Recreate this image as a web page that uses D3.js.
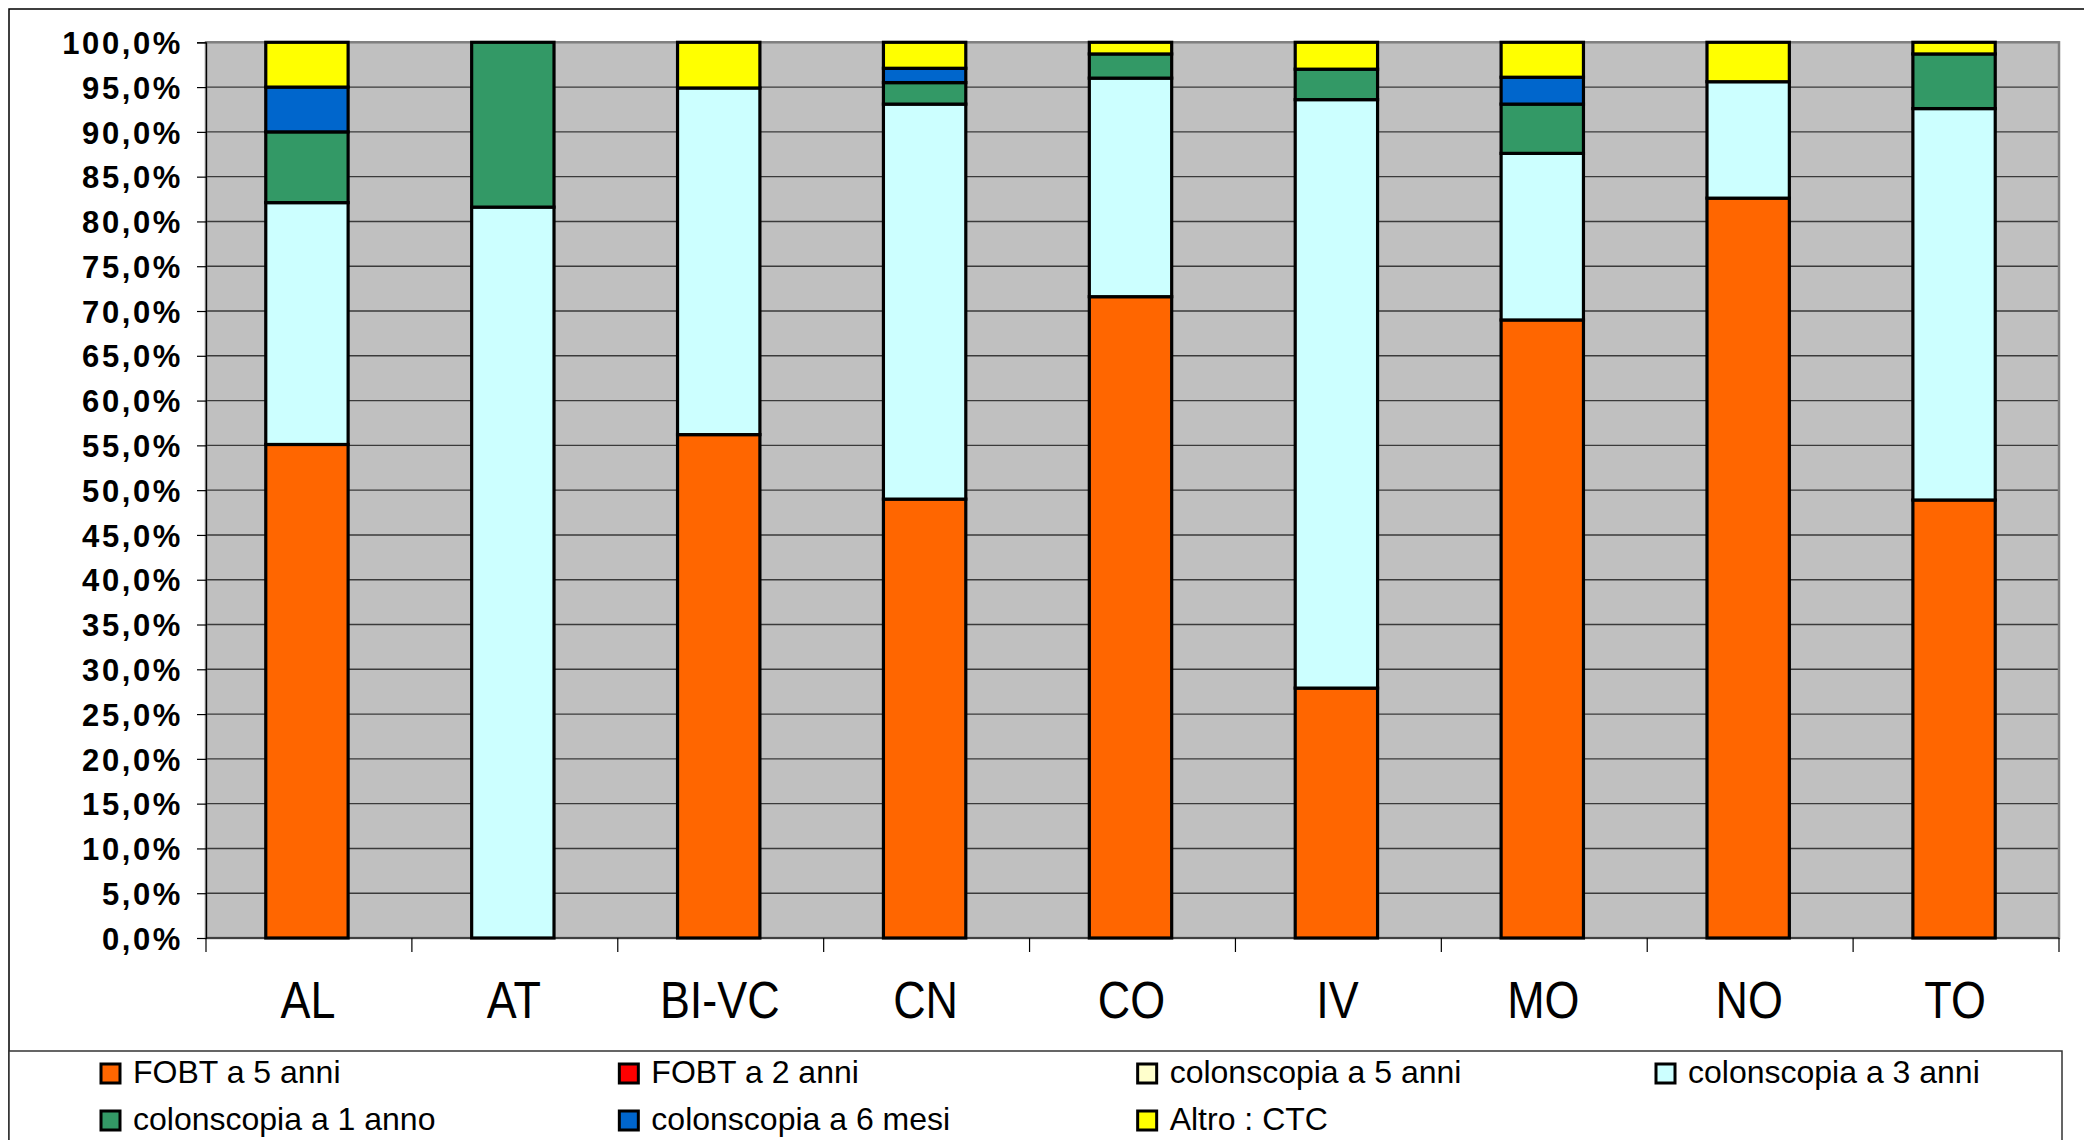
<!DOCTYPE html>
<html>
<head>
<meta charset="utf-8">
<script src="https://cdn.jsdelivr.net/npm/d3@7"></script>
<style>
  html, body { margin: 0; padding: 0; background: #fff; }
  svg { display: block; }
</style>
</head>
<body>
<svg id="chart" width="2084" height="1140"></svg>
<script>
// Screening follow-up by programme (percent of each column)
const categories = ["AL", "AT", "BI-VC", "CN", "CO", "IV", "MO", "NO", "TO"];
const seriesNames = [
  "FOBT a 5 anni", "FOBT a 2 anni", "colonscopia a 5 anni", "colonscopia a 3 anni",
  "colonscopia a 1 anno", "colonscopia a 6 mesi", "Altro : CTC"
];
const fobt5   = [55.1, 0.0, 56.2, 49.0, 71.6, 27.9, 69.0, 82.6, 48.9];
const fobt2   = [0, 0, 0, 0, 0, 0, 0, 0, 0];
const colon5  = [0, 0, 0, 0, 0, 0, 0, 0, 0];
const colon3  = [27.0, 81.6, 38.7, 44.1, 24.4, 65.7, 18.6, 13.0, 43.7];
const colon1  = [7.9, 18.4, 0.0, 2.4, 2.7, 3.4, 5.5, 0.0, 6.1];
const colon6m = [5.0, 0.0, 0.0, 1.6, 0.0, 0.0, 3.0, 0.0, 0.0];
const altro   = [5.0, 0.0, 5.1, 2.9, 1.3, 3.0, 3.9, 4.4, 1.3];
const seriesColors = ["#FF6600", "#FF0000", "#FFFFCC", "#CCFFFF", "#339966", "#0066CC", "#FFFF00"];
const yTickValues = d3.range(0, 101, 5);

const seriesValues = [fobt5, fobt2, colon5, colon3, colon1, colon6m, altro];
const keys = seriesNames;
const rows = categories.map((c, i) => {
  const r = { cat: c };
  keys.forEach((k, j) => { r[k] = seriesValues[j][i]; });
  return r;
});

const svg = d3.select("#chart");
const plot = { left: 206, right: 2059, top: 42.3, bottom: 938 };

// chart frame
svg.append("rect").attr("x", 9).attr("y", 9).attr("width", 2200).attr("height", 1300)
  .attr("fill", "#fff").attr("stroke", "#000").attr("stroke-width", 1.5);

const x = d3.scaleBand().domain(categories).range([plot.left, plot.right])
  .paddingInner(0.6).paddingOuter(0.3);
const xEdges = d3.scaleBand().domain(categories).range([plot.left, plot.right]);
const y = d3.scaleLinear().domain([0, 100]).range([plot.bottom, plot.top]);

// plot background
svg.append("rect").attr("x", plot.left).attr("y", plot.top)
  .attr("width", plot.right - plot.left).attr("height", plot.bottom - plot.top)
  .attr("fill", "#C0C0C0");

// horizontal gridlines
svg.append("g").selectAll("line").data(yTickValues).join("line")
  .attr("x1", plot.left).attr("x2", plot.right)
  .attr("y1", d => y(d)).attr("y2", d => y(d))
  .attr("stroke", "#3a3a3a").attr("stroke-width", 1.4);

// plot border
svg.append("rect").attr("x", plot.left).attr("y", plot.top)
  .attr("width", plot.right - plot.left).attr("height", plot.bottom - plot.top)
  .attr("fill", "none").attr("stroke", "#808080").attr("stroke-width", 2.5);

// stacked bars
const stacked = d3.stack().keys(keys)(rows);
svg.append("g").selectAll("g").data(stacked).join("g")
  .attr("fill", (d, i) => seriesColors[i])
  .selectAll("rect").data(d => d).join("rect")
  .attr("x", d => x(d.data.cat) - 2)
  .attr("width", x.bandwidth())
  .attr("y", d => y(d[1]))
  .attr("height", d => y(d[0]) - y(d[1]))
  .attr("stroke", "#000").attr("stroke-width", 3.2);

// y axis
const yAxis = d3.axisLeft(y).tickValues(yTickValues).tickSize(9).tickPadding(14)
  .tickFormat(d => d3.format(".1f")(d).replace(".", ",") + "%");
const gy = svg.append("g").attr("transform", `translate(${plot.left},0)`).call(yAxis);
gy.select(".domain").attr("stroke", "#000").attr("stroke-width", 1.2);
gy.selectAll(".tick line").attr("stroke", "#000").attr("stroke-width", 1.2);
gy.selectAll(".tick text")
  .attr("font-family", "'Liberation Sans', Arial, sans-serif")
  .attr("font-size", 31).attr("font-weight", "bold")
  .attr("letter-spacing", "2.6px").attr("fill", "#000")
  .attr("dy", "0.36em");

// x axis: ticks on category boundaries, labels centred in each band
const gx = svg.append("g").attr("transform", `translate(0,${plot.bottom})`);
gx.append("line").attr("x1", plot.left).attr("x2", plot.right)
  .attr("stroke", "#000").attr("stroke-width", 1.2);
const boundaries = categories.map(c => xEdges(c)).concat([plot.right]);
gx.selectAll("line.tk").data(boundaries).join("line").attr("class", "tk")
  .attr("x1", d => d).attr("x2", d => d).attr("y1", 0).attr("y2", 14)
  .attr("stroke", "#000").attr("stroke-width", 1.2);
gx.selectAll("text").data(categories).join("text")
  .attr("transform", d => `translate(${xEdges(d) + xEdges.bandwidth() / 2 - 1},80) scale(0.88,1)`)
  .attr("text-anchor", "middle")
  .attr("font-family", "'Liberation Sans', Arial, sans-serif")
  .attr("font-size", 51).attr("fill", "#000")
  .text(d => d);

// legend
const legend = svg.append("g");
legend.append("rect").attr("x", 9).attr("y", 1051).attr("width", 2053).attr("height", 200)
  .attr("fill", "#fff").attr("stroke", "#333").attr("stroke-width", 1.5);
const colX = d3.scalePoint().domain(d3.range(4)).range([101, 1656]);
const item = legend.selectAll("g").data(seriesNames).join("g")
  .attr("transform", (d, i) => `translate(${colX(i % 4)},${1083 + Math.floor(i / 4) * 47})`);
item.append("rect").attr("x", 0).attr("y", -19).attr("width", 19).attr("height", 19)
  .attr("fill", (d, i) => seriesColors[i]).attr("stroke", "#000").attr("stroke-width", 3);
item.append("text").attr("x", 32).attr("y", 0)
  .attr("font-family", "'Liberation Sans', Arial, sans-serif")
  .attr("font-size", 32).attr("fill", "#000")
  .text(d => d);
</script>
</body>
</html>
